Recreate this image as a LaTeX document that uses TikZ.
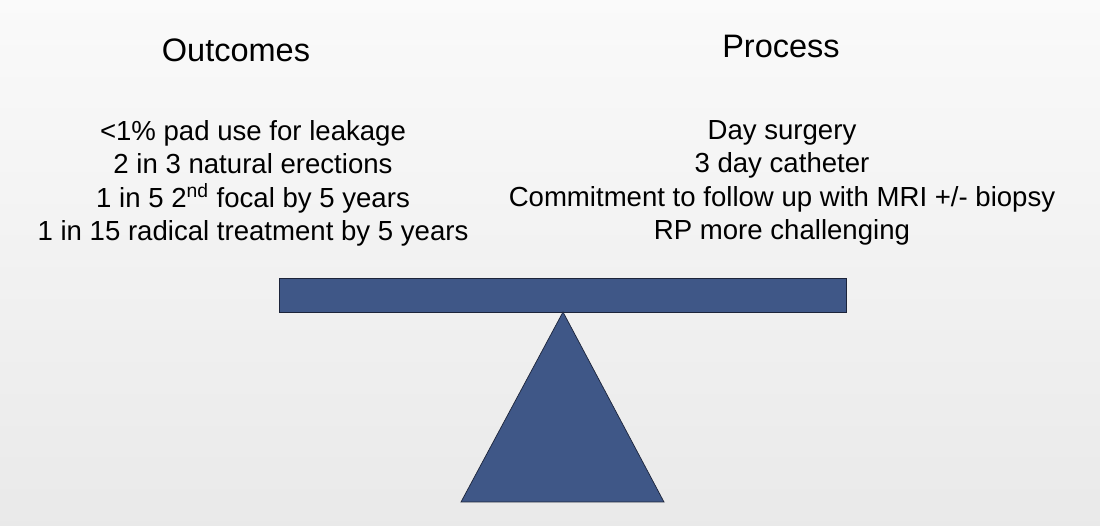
\documentclass[tikz,border=0pt]{standalone}
\usepackage{fontspec}
\setmainfont{Liberation Sans}
\definecolor{beamblue}{RGB}{63,87,135}
\definecolor{beamedge}{RGB}{28,36,58}
\begin{document}
\begin{tikzpicture}[x=0.02cm, y=-0.02cm]
  \shade[top color=gray!4, bottom color=gray!17] (0,0) rectangle (1100,526);
  \useasboundingbox (0,0) rectangle (1100,526);

  % headings
  \node[anchor=base, inner sep=0, font=\fontsize{18.5}{22}\selectfont] (outcomes) at (236,62) {Outcomes};
  \node[anchor=base, inner sep=0, font=\fontsize{18.5}{22}\selectfont] (process) at (781,58) {Process};

  % the two lists
  \node[anchor=north, inner sep=0, align=center, font=\fontsize{15.7}{19}\selectfont] (outlist) at (253,120)
    {<1\% pad use for leakage\\ 2 in 3 natural erections\\ 1 in 5 2\textsuperscript{nd} focal by 5 years\\ 1 in 15 radical treatment by 5 years};
  \node[anchor=north, inner sep=0, align=center, font=\fontsize{15.7}{19}\selectfont] (proclist) at (782,120)
    {Day surgery\\ 3 day catheter\\ Commitment to follow up with MRI +/- biopsy\\ RP more challenging};

  % balance
  \draw[fill=beamblue, draw=beamedge, thin] (279,278) rectangle (846,312);
  \coordinate (pivot) at (563,312);
  \draw[fill=beamblue, draw=beamedge, thin] (pivot) -- (664,502) -- (461,502) -- cycle;
\end{tikzpicture}
\end{document}
